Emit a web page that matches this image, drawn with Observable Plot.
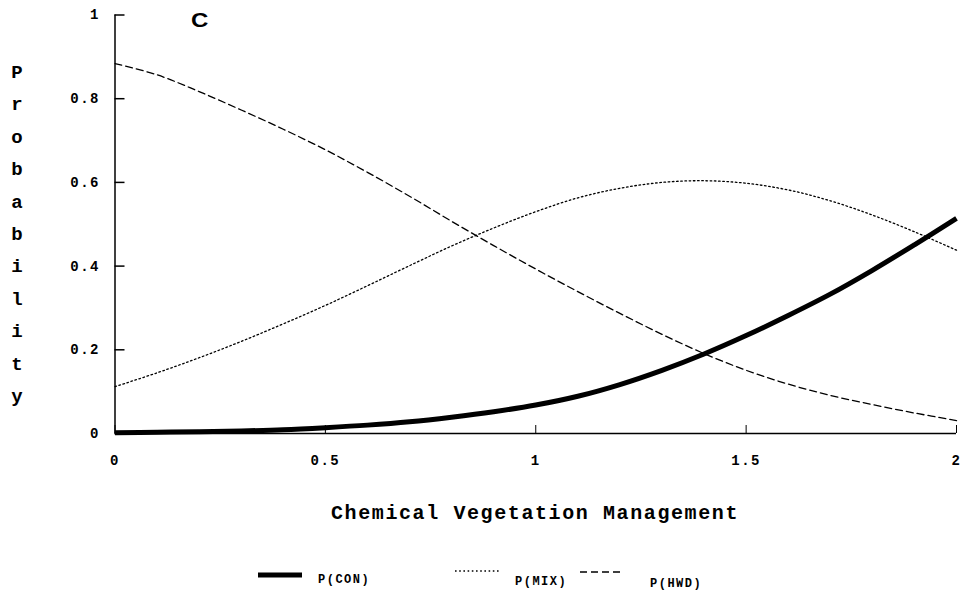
<!DOCTYPE html>
<html>
<head>
<meta charset="utf-8">
<script src="https://cdn.jsdelivr.net/npm/d3@7"></script>
<script src="https://cdn.jsdelivr.net/npm/@observablehq/plot@0.6"></script>
<style>
  html, body { margin: 0; padding: 0; background: #fff; }
  #wrap { position: relative; width: 961px; height: 594px; overflow: hidden; }
  #wrap > svg { position: absolute; left: 0; top: 0; }
  .ylab { position: absolute; left: 7px; top: 57px; width: 20px;
          font: bold 19px "Liberation Mono", monospace; color: #000; }
  .ylab span { display: block; height: 32.4px; line-height: 32.4px; text-align: center; }
  .panel { position: absolute; left: 191px; top: 9px;
           font: bold 20px "Liberation Sans", sans-serif; transform: scaleX(1.2); transform-origin: left; }
  .xtitle { position: absolute; left: 114px; width: 842px; top: 502px; text-align: center;
            font: 20px "Liberation Mono", monospace; letter-spacing: 1.6px; font-weight: 600; }
  .legend { position: absolute; top: 560px; left: 0; width: 961px; height: 34px;
            font: bold 12px "Liberation Mono", monospace; letter-spacing: 1.5px; }
  .legend svg { position: absolute; left: 0; top: 0; }
  .legend .txt { position: absolute; white-space: nowrap; height: 14px; line-height: 14px; }
</style>
</head>
<body>
<div id="wrap"></div>
<script>
// Chemical vegetation management level (x) and predicted probability of each stand type
const xLevels = [0, 0.1, 0.2, 0.3, 0.4, 0.5, 0.6, 0.7, 0.8, 0.9, 1.0,
                 1.1, 1.2, 1.3, 1.4, 1.5, 1.6, 1.7, 1.8, 1.9, 2.0];
const pCON = [0.002, 0.003, 0.004, 0.006, 0.009, 0.014, 0.020, 0.028, 0.039, 0.052, 0.068,
              0.089, 0.117, 0.151, 0.190, 0.234, 0.282, 0.333, 0.390, 0.451, 0.514];
const pMIX = [0.112, 0.145, 0.181, 0.220, 0.262, 0.306, 0.353, 0.401, 0.448, 0.491, 0.530,
              0.563, 0.586, 0.600, 0.604, 0.598, 0.582, 0.556, 0.522, 0.482, 0.438];
const pHWD = [0.884, 0.857, 0.817, 0.773, 0.727, 0.678, 0.624, 0.567, 0.507, 0.449, 0.393,
              0.339, 0.287, 0.237, 0.191, 0.151, 0.118, 0.091, 0.069, 0.049, 0.031];

const seriesNames = ["P(CON)", "P(MIX)", "P(HWD)"];
const xTicks = [0, 0.5, 1, 1.5, 2];
const yTicks = [0, 0.2, 0.4, 0.6, 0.8, 1];
const panelLabel = "C";
const xTitle = "Chemical Vegetation Management";
const yTitle = "Probability";

const rows = (vals) => xLevels.map((x, i) => ({x, p: vals[i]}));
const con = rows(pCON), mix = rows(pMIX), hwd = rows(pHWD);

const styles = {
  "P(CON)": {stroke: "#000", strokeWidth: 5, strokeDasharray: null},
  "P(MIX)": {stroke: "#000", strokeWidth: 1.3, strokeDasharray: "1.6,2.6"},
  "P(HWD)": {stroke: "#000", strokeWidth: 1.3, strokeDasharray: "7,4"}
};

const numFmt = d => d === 0 ? "0" : String(d);
const tickFont = {fontFamily: "Liberation Mono, monospace", fontWeight: "bold", fontSize: 14};

const chart = Plot.plot({
  width: 961,
  height: 550,
  marginLeft: 114.5,
  marginRight: 5,
  marginTop: 14.5,
  marginBottom: 117,
  style: {background: "transparent", overflow: "visible"},
  x: {domain: [0, 2]},
  y: {domain: [0, 1]},
  marks: [
    Plot.ruleY([0], {stroke: "#000", strokeWidth: 1.3}),
    Plot.ruleX([0], {stroke: "#000", strokeWidth: 1.5}),
    Plot.axisY({ticks: yTicks, tickFormat: numFmt, tickSize: -10, tickPadding: 25,
                label: null, stroke: "#000", strokeWidth: 1.5, ...tickFont}),
    Plot.axisX({ticks: xTicks, tickFormat: numFmt, tickSize: -8, tickPadding: 30,
                label: null, stroke: "#000", strokeWidth: 1, ...tickFont}),
    Plot.line(hwd, {x: "x", y: "p", curve: "catmull-rom", ...styles["P(HWD)"]}),
    Plot.line(mix, {x: "x", y: "p", curve: "catmull-rom", ...styles["P(MIX)"]}),
    Plot.line(con, {x: "x", y: "p", curve: "catmull-rom", strokeLinecap: "butt", ...styles["P(CON)"]})
  ]
});

const wrap = document.getElementById("wrap");
wrap.appendChild(chart);
// spaced-out tick labels
d3.select(chart).selectAll("text").style("letter-spacing", "1.5px");

// stacked y-axis title
const ylab = document.createElement("div");
ylab.className = "ylab";
for (const ch of yTitle) {
  const s = document.createElement("span");
  s.textContent = ch;
  ylab.appendChild(s);
}
wrap.appendChild(ylab);

// panel letter
const pl = document.createElement("div");
pl.className = "panel";
pl.textContent = panelLabel;
wrap.appendChild(pl);

// x-axis title
const xt = document.createElement("div");
xt.className = "xtitle";
xt.textContent = xTitle;
wrap.appendChild(xt);

// legend: line sample followed by the series name (positions relative to the legend box)
const legendPos = {
  "P(CON)": {lineX: 258, lineY: 15, textX: 318, textY: 20},
  "P(MIX)": {lineX: 455, lineY: 11, textX: 515, textY: 22},
  "P(HWD)": {lineX: 580, lineY: 12, textX: 650, textY: 24}
};
const legend = document.createElement("div");
legend.className = "legend";
const lsvg = d3.create("svg").attr("width", 961).attr("height", 34);
for (const name of seriesNames) {
  const pos = legendPos[name];
  const st = styles[name];
  lsvg.append("line").attr("x1", pos.lineX).attr("x2", pos.lineX + 44)
    .attr("y1", pos.lineY).attr("y2", pos.lineY)
    .attr("stroke", st.stroke).attr("stroke-width", st.strokeWidth)
    .attr("stroke-dasharray", st.strokeDasharray);
  const t = document.createElement("div");
  t.className = "txt";
  t.style.left = pos.textX + "px";
  t.style.top = (pos.textY - 7) + "px";
  t.textContent = name;
  legend.appendChild(t);
}
legend.prepend(lsvg.node());
wrap.appendChild(legend);
</script>
</body>
</html>
